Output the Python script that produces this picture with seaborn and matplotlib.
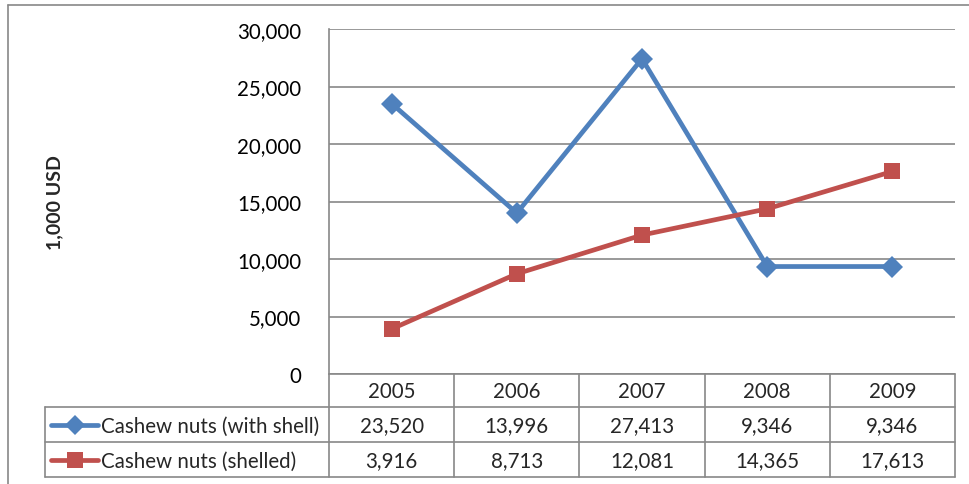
import matplotlib
matplotlib.use("Agg")
import matplotlib.pyplot as plt
import seaborn as sns
import pandas as pd
from matplotlib.lines import Line2D
from matplotlib.ticker import FuncFormatter

years = ["2005", "2006", "2007", "2008", "2009"]
series_names = ["Cashew nuts (with shell)", "Cashew nuts (shelled)"]
with_shell = [23520, 13996, 27413, 9346, 9346]
shelled = [3916, 8713, 12081, 14365, 17613]
y_label = "1,000 USD"

colors = ["#4F81BD", "#C0504D"]
markers = ["D", "s"]

sns.set_theme(style="white")
plt.rcParams["font.family"] = ["Lato", "DejaVu Sans"]

W, H = 969, 485
fig = plt.figure(figsize=(W / 100, H / 100), dpi=100)

def fx(px):
    return px / W

def fy(py):
    return 1 - py / H

FS = 14.8
left, right, top, bottom = 329, 955, 30, 375
ax = fig.add_axes([fx(left), fy(bottom), fx(right) - fx(left), fy(top) - fy(bottom)])

rows = []
for name, vals in zip(series_names, [with_shell, shelled]):
    for i, v in enumerate(vals):
        rows.append({"pos": i, "value": v, "series": name})
df = pd.DataFrame(rows)

sns.lineplot(data=df, x="pos", y="value", hue="series", style="series",
             palette=colors, markers=markers, dashes=False, linewidth=3.4,
             markersize=11, markeredgewidth=0, legend=False, ax=ax)

ax.set_xlim(-0.5, len(years) - 0.5)
ax.set_ylim(0, 30000)
ax.set_yticks(range(0, 30001, 5000))
ax.yaxis.set_major_formatter(FuncFormatter(lambda v, p: f"{int(v):,}"))
ax.set_xticks([])
ax.set_xlabel("")
ax.set_ylabel("")
ax.grid(axis="y", color="#888888", linewidth=1.2)
ax.set_axisbelow(True)
for s in ["top", "right", "bottom"]:
    ax.spines[s].set_visible(False)
ax.spines["left"].set_color("#888888")
ax.spines["left"].set_linewidth(1.2)
ax.tick_params(axis="y", labelsize=FS, length=0, pad=20, colors="black")

fig.text(fx(55), fy(203), y_label, rotation=90, ha="center", va="center",
         fontsize=14, fontweight="bold")

# data table
gcol = "#888888"
tab_left = 45
row_y = [375, 408, 443, 478]
ncol = len(years)
col_w = (right - left) / ncol

def hline(x0, x1, y):
    fig.add_artist(Line2D([fx(x0), fx(x1)], [fy(y), fy(y)], color=gcol, lw=1.2))

def vline(x, y0, y1):
    fig.add_artist(Line2D([fx(x), fx(x)], [fy(y0), fy(y1)], color=gcol, lw=1.2))

hline(left, right, row_y[0])
hline(tab_left, right, row_y[1])
hline(tab_left, right, row_y[2])
hline(tab_left, right, row_y[3])
vline(tab_left, row_y[1], row_y[3])
for j in range(ncol + 1):
    vline(left + j * col_w, row_y[0], row_y[3])

for j, yr in enumerate(years):
    fig.text(fx(left + (j + 0.5) * col_w), fy((row_y[0] + row_y[1]) / 2 + 1), yr,
             ha="center", va="center", fontsize=FS)

for r, (name, vals) in enumerate(zip(series_names, [with_shell, shelled])):
    yc = (row_y[r + 1] + row_y[r + 2]) / 2 + 1
    for j, v in enumerate(vals):
        fig.text(fx(left + (j + 0.5) * col_w), fy(yc), f"{v:,}",
                 ha="center", va="center", fontsize=FS)
    fig.add_artist(Line2D([fx(51), fx(98)], [fy(yc - 1), fy(yc - 1)], color=colors[r],
                          lw=3.4))
    fig.add_artist(Line2D([fx(74.5)], [fy(yc - 1)], color=colors[r], lw=0,
                          marker=markers[r], markersize=11 if r else 10, markeredgewidth=0))
    fig.text(fx(101), fy(yc), name, ha="left", va="center", fontsize=FS)

# outer chart border (left and top)
fig.add_artist(Line2D([fx(8), fx(8)], [fy(6), fy(H)], color="#888888", lw=1.2))
fig.add_artist(Line2D([fx(8), fx(W)], [fy(6), fy(6)], color="#888888", lw=1.2))

fig.savefig("out.png", dpi=100, facecolor="white")
